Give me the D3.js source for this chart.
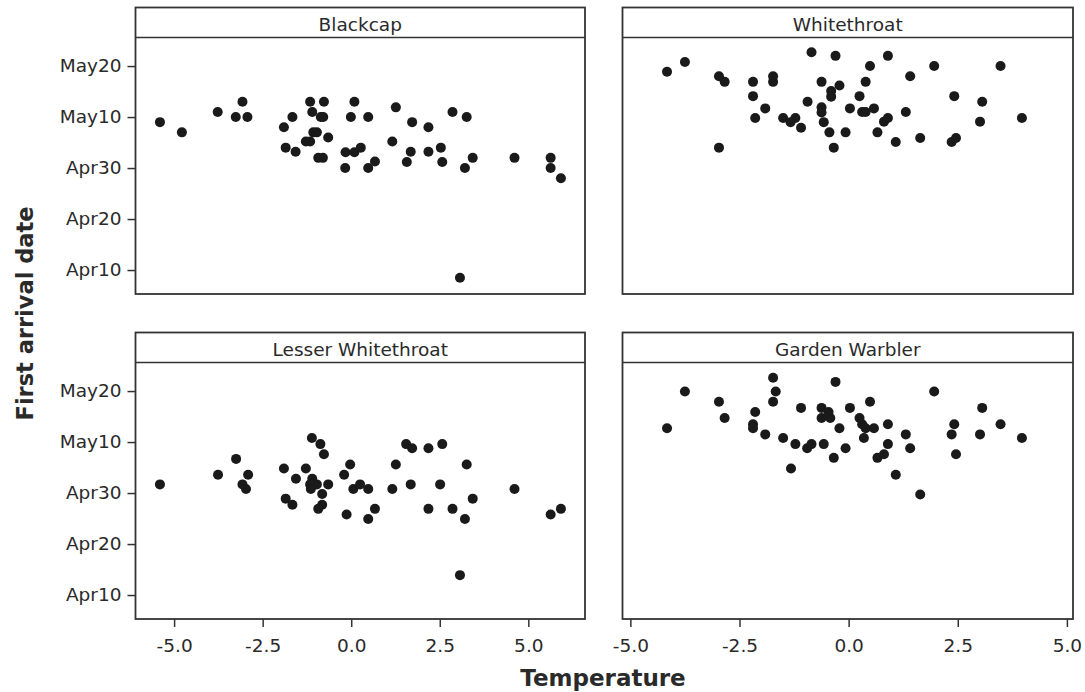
<!DOCTYPE html>
<html>
<head>
<meta charset="utf-8">
<script src="https://cdnjs.cloudflare.com/ajax/libs/d3/7.8.5/d3.min.js"></script>
<style>
body { margin: 0; background: #fff; }
text { font-family: "DejaVu Sans", Verdana, sans-serif; fill: #2a2a2a; }
</style>
</head>
<body>
<div id="drawArea"></div>
<script>
// First arrival (day of year) against temperature, one panel per species
var species = ['Blackcap', 'Whitethroat', 'Lesser Whitethroat', 'Garden Warbler'];

var blackcapTemp = [-5.40, -4.78, -3.77, -3.07, -3.26, -2.93, -1.90, -1.66, -1.85, -1.57,
    -1.16, -0.77, -1.10, -0.86, -0.79, -1.07, -0.97, -1.28, -1.16, -0.65,
    -0.93, -0.80, -0.17, -0.16, 0.09, 0.27, 0.09, -0.01, 0.48, 0.48,
    0.67, 1.26, 1.16, 1.72, 2.18, 2.86, 3.26, 1.68, 1.57, 2.18,
    2.53, 2.57, 3.43, 3.21, 4.61, 5.63, 5.63, 5.92, 3.07];
var blackcapDay = [129.0, 127.0, 131.0, 133.0, 130.0, 130.0, 128.0, 130.0, 124.0, 123.2,
    133.0, 133.0, 131.0, 130.0, 130.0, 127.0, 127.0, 125.2, 125.2, 126.0,
    122.0, 122.0, 120.0, 123.1, 123.1, 124.0, 133.0, 130.0, 130.0, 120.0,
    121.3, 131.9, 125.2, 129.0, 128.0, 131.0, 130.0, 123.2, 121.2, 123.2,
    124.0, 121.2, 122.0, 120.0, 122.0, 122.0, 120.0, 118.0, 98.5];

var whitethroatTemp = [-4.16, -3.75, -2.97, -2.84, -2.19, -1.73, -1.73, -2.19, -1.91, -2.14,
    -2.97, -1.50, -1.22, -1.33, -1.09, -0.94, -0.85, -0.62, -0.62, -0.62,
    -0.57, -0.44, -0.34, -0.40, -0.40, -0.21, -0.30, -0.07, 0.03, 0.25,
    0.31, 0.39, 0.39, 0.49, 0.58, 0.66, 0.81, 0.90, 0.90, 1.08,
    1.31, 1.41, 1.64, 1.96, 2.36, 2.46, 2.42, 3.01, 3.06, 3.48, 3.97];
var whitethroatDay = [138.9, 140.8, 138.0, 136.9, 136.9, 138.0, 136.9, 134.1, 131.7, 129.8,
    124.0, 129.8, 129.8, 129.0, 127.9, 133.0, 142.7, 136.9, 131.9, 130.9,
    129.0, 127.0, 124.0, 135.1, 134.0, 136.2, 142.0, 127.0, 131.7, 134.1,
    131.0, 131.0, 136.9, 140.0, 131.7, 127.0, 129.1, 129.8, 142.0, 125.1,
    131.0, 138.0, 125.9, 140.0, 125.1, 125.9, 134.1, 129.1, 133.0, 140.0, 129.8];

var lesserTemp = [-5.40, -3.76, -3.25, -2.91, -3.07, -2.97, -1.90, -1.85, -1.66, -1.56,
    -1.28, -1.11, -0.87, -0.77, -1.10, -1.16, -0.97, -1.14, -0.65, -0.82,
    -0.82, -0.93, -0.20, -0.03, -0.13, 0.06, 0.25, 0.48, 0.48, 0.67,
    1.16, 1.26, 1.55, 1.72, 2.18, 2.57, 1.68, 2.51, 3.26, 2.18,
    2.86, 3.21, 3.43, 4.61, 5.63, 5.92, 3.07];
var lesserDay = [121.7, 123.6, 126.7, 123.6, 121.7, 120.8, 124.8, 118.9, 117.7, 122.8,
    124.8, 130.8, 129.6, 127.6, 122.8, 121.7, 121.7, 120.8, 121.7, 119.8,
    117.7, 116.9, 123.6, 125.6, 115.8, 120.8, 121.7, 120.8, 114.9, 116.9,
    120.8, 125.6, 129.6, 128.8, 128.8, 129.6, 121.7, 121.7, 125.6, 116.9,
    116.9, 114.9, 118.9, 120.8, 115.8, 116.9, 103.9];

var warblerTemp = [-4.16, -3.75, -2.97, -2.84, -2.14, -2.19, -2.19, -1.91, -1.73, -1.67,
    -1.73, -1.50, -1.32, -1.22, -1.09, -0.95, -0.85, -0.62, -0.62, -0.57,
    -0.46, -0.42, -0.34, -0.30, -0.21, -0.07, 0.03, 0.25, 0.31, 0.35,
    0.39, 0.58, 0.49, 0.66, 0.81, 0.90, 0.90, 1.08, 1.31, 1.41,
    1.64, 1.96, 2.36, 2.42, 2.46, 3.01, 3.06, 3.48, 3.97];
var warblerDay = [132.7, 139.9, 137.9, 134.7, 135.9, 133.5, 132.7, 131.5, 142.6, 139.9,
    137.9, 130.8, 124.8, 129.6, 136.7, 128.8, 129.6, 136.7, 134.7, 129.6,
    135.9, 134.7, 126.9, 141.8, 132.7, 128.8, 136.7, 134.7, 133.5, 130.8,
    132.7, 132.7, 137.9, 126.9, 127.6, 129.6, 133.5, 123.6, 131.5, 128.8,
    119.7, 139.9, 131.5, 133.5, 127.6, 131.5, 136.7, 133.5, 130.8];

var dateTicks = [100, 110, 120, 130, 140];
var dateLabels = ['Apr10', 'Apr20', 'Apr30', 'May10', 'May20'];
var tempTicks = [-5, -2.5, 0, 2.5, 5];
var tempLabels = ['-5.0', '-2.5', '0.0', '2.5', '5.0'];

var width = 1085, height = 692;
var colX = [135.5, 622.5], colW = [449.5, 450.5];
var rowY = [7.5, 332.5];
var stripH = 30, plotH = 256.5;
var colDomain = [[-6.09, 6.6], [-5.18, 5.14]];

var panels = [
    { name: species[0], temp: blackcapTemp, day: blackcapDay, col: 0, row: 0 },
    { name: species[1], temp: whitethroatTemp, day: whitethroatDay, col: 1, row: 0 },
    { name: species[2], temp: lesserTemp, day: lesserDay, col: 0, row: 1 },
    { name: species[3], temp: warblerTemp, day: warblerDay, col: 1, row: 1 }
];

var svg = d3.select('#drawArea')
    .append('svg')
    .attr('width', width)
    .attr('height', height);

var y = d3.scaleLinear().domain([95.3, 145.6]).range([plotH, 0]);

panels.forEach(function (p) {
    var w = colW[p.col];
    var x = d3.scaleLinear().domain(colDomain[p.col]).range([0, w]);

    var g = svg.append('g')
        .attr('transform', 'translate(' + colX[p.col] + ',' + rowY[p.row] + ')');

    // y axis only on the left column
    if (p.col == 0) {
        var ya = g.append('g')
            .attr('transform', 'translate(0,' + stripH + ')')
            .call(d3.axisLeft(y)
                .tickValues(dateTicks)
                .tickFormat(function (d, i) { return dateLabels[i]; })
                .tickSize(8)
                .tickPadding(6));
        ya.select('.domain').remove();
        ya.selectAll('line').attr('stroke', '#333').attr('stroke-width', 1.5);
        ya.selectAll('text').style('font-size', '18.5px').attr('fill', '#2a2a2a');
    }

    // x axis only on the bottom row
    if (p.row == 1) {
        var xa = g.append('g')
            .attr('transform', 'translate(0,' + (stripH + plotH) + ')')
            .call(d3.axisBottom(x)
                .tickValues(tempTicks)
                .tickFormat(function (d, i) { return tempLabels[i]; })
                .tickSize(8)
                .tickPadding(12));
        xa.select('.domain').remove();
        xa.selectAll('line').attr('stroke', '#333').attr('stroke-width', 1.5);
        xa.selectAll('text').style('font-size', '18.5px').attr('fill', '#2a2a2a');
    }

    // points
    g.append('g')
        .attr('transform', 'translate(0,' + stripH + ')')
        .selectAll('circle')
        .data(d3.range(p.temp.length))
        .enter()
        .append('circle')
        .attr('cx', function (i) { return x(p.temp[i]); })
        .attr('cy', function (i) { return y(p.day[i]); })
        .attr('r', 5)
        .attr('fill', '#1a1a1a');

    // frame and title strip
    g.append('rect')
        .attr('width', w)
        .attr('height', stripH + plotH)
        .attr('fill', 'none')
        .attr('stroke', '#333')
        .attr('stroke-width', 1.8);
    g.append('line')
        .attr('x1', 0)
        .attr('x2', w)
        .attr('y1', stripH)
        .attr('y2', stripH)
        .attr('stroke', '#333')
        .attr('stroke-width', 1.5);
    g.append('text')
        .attr('x', w / 2)
        .attr('y', 23.5)
        .attr('text-anchor', 'middle')
        .style('font-size', '18.5px')
        .text(p.name);
});

// axis titles
svg.append('text')
    .attr('transform', 'translate(33,313.5) rotate(-90)')
    .attr('text-anchor', 'middle')
    .style('font-size', '22.5px')
    .style('font-weight', 'bold')
    .text('First arrival date');

svg.append('text')
    .attr('x', 603)
    .attr('y', 686)
    .attr('text-anchor', 'middle')
    .style('font-size', '23px')
    .style('font-weight', 'bold')
    .text('Temperature');
</script>
</body>
</html>
